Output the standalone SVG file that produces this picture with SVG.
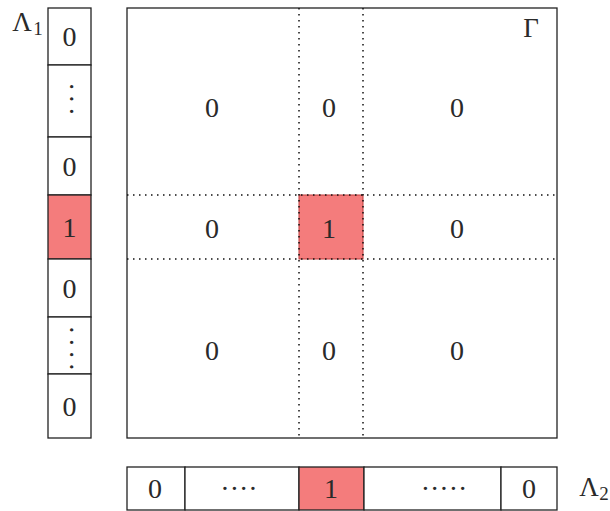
<svg xmlns="http://www.w3.org/2000/svg" width="610" height="511" viewBox="0 0 610 511">
<style>
.cell{fill:#fff;stroke:#222;stroke-width:1.3}
.red{fill:#F47C7C;stroke:#222;stroke-width:1.3}
.dot{stroke:#111;stroke-width:1.5;stroke-dasharray:1.5 4.5;fill:none}
text{font-family:"Liberation Serif","DejaVu Serif",serif;fill:#2a2a2a;text-anchor:middle}
.n{font-size:28px}
.vd{font-size:28px;letter-spacing:3px}
.lab{font-size:27px}
.sub{font-size:19px}
</style>
<rect width="610" height="511" fill="#fff"/>
<g id="gamma">
<rect class="cell" x="127" y="8" width="430" height="430"/>
<rect x="299" y="195" width="64" height="64" fill="#F47C7C" stroke="#c03a3a" stroke-width="1"/>
<text class="lab" x="531" y="37">Γ</text>
<g class="n">
<text x="212" y="117">0</text><text x="329" y="117">0</text><text x="457" y="117">0</text>
<text x="212" y="238">0</text><text x="329" y="238">1</text><text x="457" y="238">0</text>
<text x="212" y="360">0</text><text x="329" y="360">0</text><text x="457" y="360">0</text>
</g>
</g>
<g id="connectors">
<line class="dot" x1="127" y1="195" x2="557" y2="195"/>
<line class="dot" x1="127" y1="259" x2="557" y2="259"/>
<line class="dot" x1="299" y1="8" x2="299" y2="438"/>
<line class="dot" x1="363" y1="8" x2="363" y2="438"/>
</g>
<g id="lambda1">
<rect class="cell" x="48" y="8" width="43" height="57"/>
<rect class="cell" x="48" y="65" width="43" height="72"/>
<rect class="cell" x="48" y="137" width="43" height="58"/>
<rect class="red" x="48" y="195" width="43" height="64"/>
<rect class="cell" x="48" y="259" width="43" height="58"/>
<rect class="cell" x="48" y="317" width="43" height="57"/>
<rect class="cell" x="48" y="374" width="43" height="64"/>
<g class="n">
<text x="69.5" y="46">0</text>
<text x="69.5" y="176">0</text>
<text x="69.5" y="237">1</text>
<text x="69.5" y="298">0</text>
<text x="69.5" y="416">0</text>
</g>
<text class="vd" transform="translate(62,100.5) rotate(90)">···</text>
<text class="vd" transform="translate(62,350) rotate(90)">····</text>
<text class="lab" x="22" y="31">Λ</text>
<text class="sub" x="38" y="35">1</text>
</g>
<g id="lambda2">
<rect class="cell" x="127" y="467" width="58" height="43"/>
<rect class="cell" x="185" y="467" width="114" height="43"/>
<rect class="red" x="299" y="467" width="65" height="43"/>
<rect class="cell" x="364" y="467" width="137" height="43"/>
<rect class="cell" x="501" y="467" width="56" height="43"/>
<g class="n">
<text x="155" y="498">0</text>
<text x="239" y="498">····</text>
<text x="331" y="498">1</text>
<text x="444" y="498">·····</text>
<text x="529" y="498">0</text>
</g>
<text class="lab" x="589" y="496">Λ</text>
<text class="sub" x="604" y="500">2</text>
</g>
</svg>
